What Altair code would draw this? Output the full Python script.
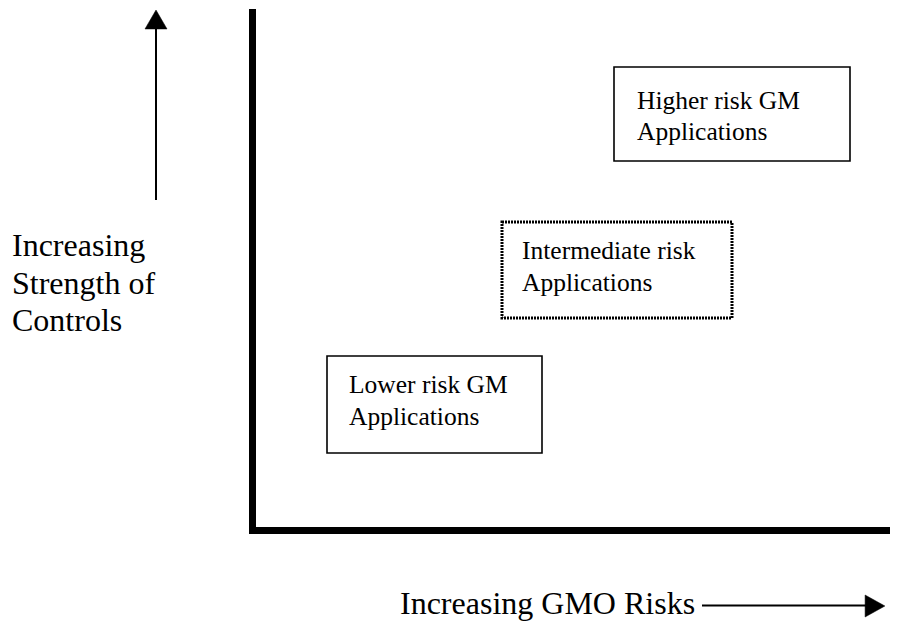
import altair as alt
import pandas as pd

# Diagram coordinates (risk axis horizontal, control strength vertical, in diagram units)
box_line1 = ["Higher risk GM", "Intermediate risk", "Lower risk GM"]
box_line2 = ["Applications", "Applications", "Applications"]
box_kind = ["solid", "dotted", "solid"]
box_x0 = [614, 502, 327]
box_x1 = [850, 732, 542]
box_y0 = [67, 222, 356]
box_y1 = [161, 318, 453]
box_text_x = [637, 522, 349]
box_text_y1 = [109, 259, 393]
box_text_y2 = [140, 291, 425]

left_label = ["Increasing", "Strength of", "Controls"]
left_label_x = [12, 12, 12]
left_label_y = [256, 294, 331]

bottom_label = ["Increasing GMO Risks"]
bottom_label_x = [400]
bottom_label_y = [614]

# axes frame
frame_x = [252.5, 249]
frame_x2 = [252.5, 898]
frame_y = [9, 530.5]
frame_y2 = [534, 530.5]

# arrows
arrow_x = [156, 702]
arrow_x2 = [156, 868]
arrow_y = [200, 605.5]
arrow_y2 = [26, 605.5]
head_x = [156, 875]
head_y = [19.5, 606]
head_shape = ["M-1,0.86L0,-0.86L1,0.86Z", "M-0.9,-1L0.9,0L-0.9,1Z"]

X = lambda f: alt.X(f, type="quantitative", scale=alt.Scale(domain=[8, 890], nice=False, zero=False), axis=None)
Y = lambda f: alt.Y(f, type="quantitative", scale=alt.Scale(domain=[8, 625], reverse=True, nice=False, zero=False), axis=None)

boxes = pd.DataFrame({"x0": box_x0, "x1": box_x1, "y0": box_y0, "y1": box_y1, "kind": box_kind})
solid = alt.Chart(boxes[boxes.kind == "solid"]).mark_rect(
    fill="white", stroke="black", strokeWidth=1.6
).encode(x=X("x0"), x2="x1", y=Y("y0"), y2="y1")
dotted = alt.Chart(boxes[boxes.kind == "dotted"]).mark_rect(
    fill="white", stroke="black", strokeWidth=3, strokeDash=[2, 1]
).encode(x=X("x0"), x2="x1", y=Y("y0"), y2="y1")

btext = pd.DataFrame({
    "t": box_line1 + box_line2,
    "x": box_text_x + box_text_x,
    "y": box_text_y1 + box_text_y2,
})
box_texts = alt.Chart(btext).mark_text(
    font="Liberation Serif", fontSize=25.5, align="left", baseline="alphabetic", color="black"
).encode(x=X("x"), y=Y("y"), text="t:N")

labels = pd.DataFrame({
    "t": left_label + bottom_label,
    "x": left_label_x + bottom_label_x,
    "y": left_label_y + bottom_label_y,
})
label_texts = alt.Chart(labels).mark_text(
    font="Liberation Serif", fontSize=32, align="left", baseline="alphabetic", color="black"
).encode(x=X("x"), y=Y("y"), text="t:N")

frame = alt.Chart(pd.DataFrame({"x": frame_x, "x2": frame_x2, "y": frame_y, "y2": frame_y2})).mark_rule(
    color="black", strokeWidth=7
).encode(x=X("x"), x2="x2", y=Y("y"), y2="y2")

arrows = alt.Chart(pd.DataFrame({"x": arrow_x, "x2": arrow_x2, "y": arrow_y, "y2": arrow_y2})).mark_rule(
    color="black", strokeWidth=2
).encode(x=X("x"), x2="x2", y=Y("y"), y2="y2")

heads = alt.layer(*[
    alt.Chart(pd.DataFrame({"x": [head_x[i]], "y": [head_y[i]]})).mark_point(
        shape=head_shape[i], filled=True, fill="black", stroke="black", strokeWidth=0.5,
        size=484, opacity=1
    ).encode(x=X("x"), y=Y("y"))
    for i in range(2)
])

chart = alt.layer(frame, solid, dotted, box_texts, label_texts, arrows, heads).properties(
    width=882, height=617, autosize=alt.AutoSizeParams(type="none"), padding=0,
    background="white"
).configure_view(stroke=None, strokeWidth=0)

chart.save("out.html", embed_options={"renderer": "svg", "actions": False})
